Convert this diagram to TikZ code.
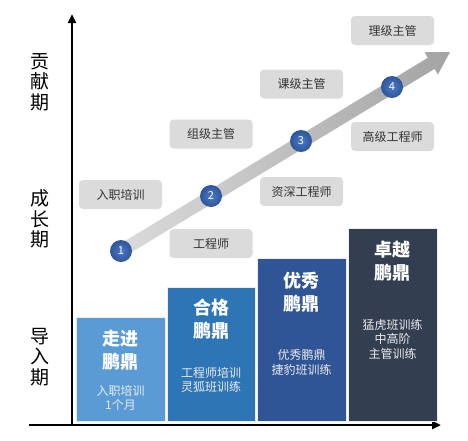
\documentclass[tikz,border=0pt]{standalone}
\usepackage{fontspec}
\setmainfont{Noto Sans CJK SC}
\usetikzlibrary{arrows.meta,calc}
\definecolor{stageA}{HTML}{5B9BD5}
\definecolor{stageB}{HTML}{2E75B6}
\definecolor{stageC}{HTML}{2F5597}
\definecolor{stageD}{HTML}{333F50}
\definecolor{roleGray}{HTML}{DBDBDB}
\definecolor{roleText}{HTML}{333333}
\definecolor{dotBlue}{HTML}{2F5597}
\definecolor{dotLight}{HTML}{4A78C8}
\begin{document}
\begin{tikzpicture}[x=1pt,y=-1pt,
  axisline/.style={line width=2.3pt, -{Triangle[length=9pt,width=8pt]}},
  phase/.style={align=center, inner sep=0pt, font=\fontsize{19}{20.5}\selectfont, text=black},
  role/.style={rectangle, rounded corners=4pt, fill=roleGray, minimum width=83pt, minimum height=29pt, inner sep=0pt, font=\fontsize{12}{14}\selectfont, text=roleText},
  stagebox/.style={rectangle, draw=white!85!gray, line width=0.6pt, anchor=south west, inner sep=0pt},
  stitle/.style={align=center, inner sep=0pt, text=white, font=\fontsize{18}{23}\selectfont\bfseries},
  ssub/.style={align=center, inner sep=0pt, text=white!92!black, font=\fontsize{12}{14.5}\selectfont},
  dot/.style={circle, minimum size=22pt, inner sep=0pt, inner color=dotLight, outer color=dotBlue, text=white, font=\fontsize{11}{12}\selectfont}
]
\useasboundingbox (0,0) rectangle (468,440);

% axes
\coordinate (origin) at (72,425);
\coordinate (xstart) at (29,425);
\coordinate (xend) at (441,425);
\coordinate (yend) at (72,14);
\draw[axisline] (origin) -- (yend);
\draw[axisline] (xstart) -- (xend);

% phase labels
\node[phase] (p1) at (40,82) {贡\\献\\期};
\node[phase] (p2) at (40,219) {成\\长\\期};
\node[phase] (p3) at (40,357) {导\\入\\期};

% stage boxes
\node[stagebox, fill=stageA, minimum width=89pt, minimum height=104pt] (s1) at (76,422) {};
\node[stagebox, fill=stageB, minimum width=88pt, minimum height=134pt] (s2) at (167,422) {};
\node[stagebox, fill=stageC, minimum width=89pt, minimum height=163pt] (s3) at (257,422) {};
\node[stagebox, fill=stageD, minimum width=89pt, minimum height=193pt] (s4) at (348,422) {};

\node[stitle] (s1t) at (120.5,350) {走进\\鹏鼎};
\node[ssub] (s1s) at (120.5,398) {入职培训\\1个月};
\node[stitle] (s2t) at (211,319) {合格\\鹏鼎};
\node[ssub] (s2s) at (211,380) {工程师培训\\灵狐班训练};
\node[stitle] (s3t) at (301.5,292.5) {优秀\\鹏鼎};
\node[ssub] (s3s) at (301.5,362.5) {优秀鹏鼎\\捷豹班训练};
\node[stitle] (s4t) at (392.5,261) {卓越\\鹏鼎};
\node[ssub] (s4s) at (392.5,339) {猛虎班训练\\中高阶\\主管训练};

% role boxes
\node[role] (r1) at (120.5,194.5) {入职培训};
\node[role] (r2) at (211,134) {组级主管};
\node[role] (r3) at (211,243.5) {工程师};
\node[role] (r4) at (301.5,84) {课级主管};
\node[role] (r5) at (301.5,191.5) {资深工程师};
\node[role] (r6) at (392.5,30.5) {理级主管};
\node[role] (r7) at (392.5,136.5) {高级工程师};

% growth arrow
\coordinate (n1c) at (121,251);
\coordinate (tip) at (450,52);
\coordinate (hb) at ($(tip)!22pt!(n1c)$);
\shade[left color=gray!28, right color=gray!72]
  ($(n1c)!6.5pt!90:(tip)$) -- ($(hb)!6.5pt!-90:(n1c)$) -- ($(hb)!13pt!-90:(n1c)$) -- (tip)
  -- ($(hb)!13pt!90:(n1c)$) -- ($(hb)!6.5pt!90:(n1c)$) -- ($(n1c)!6.5pt!-90:(tip)$) -- cycle;

% milestone dots
\node[dot] (d1) at (121,251) {1};
\node[dot] (d2) at (211,196) {2};
\node[dot] (d3) at (301,141) {3};
\node[dot] (d4) at (392,87) {4};
\end{tikzpicture}
\end{document}
